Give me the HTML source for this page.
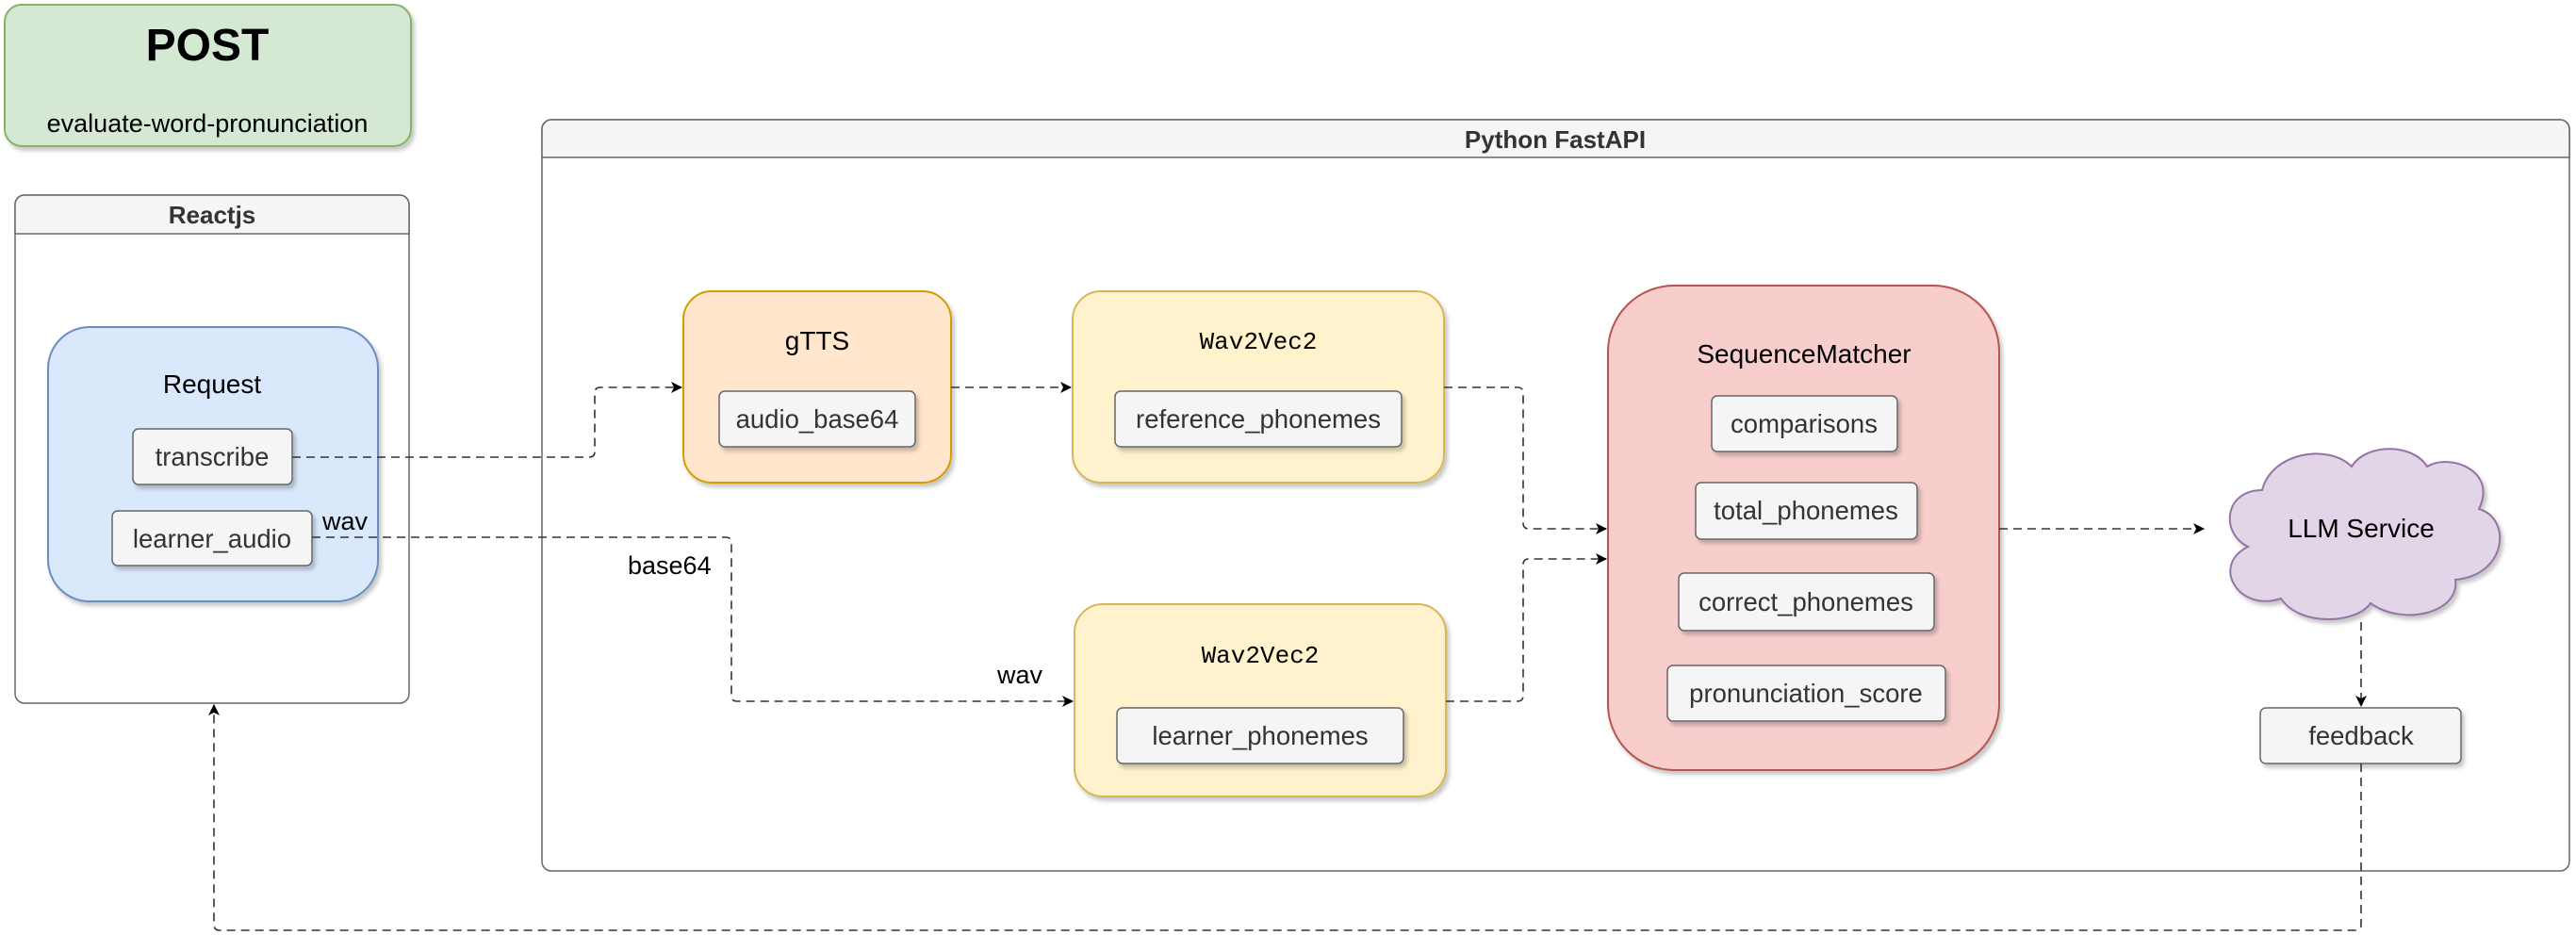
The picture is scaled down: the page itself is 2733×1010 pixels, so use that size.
<!DOCTYPE html>
<html><head><meta charset="utf-8"><style>html,body{margin:0;padding:0;background:#fff}svg{display:block}</style></head>
<body>
<svg width="2733" height="1010" viewBox="0 0 2733 1010" xmlns="http://www.w3.org/2000/svg" font-family="'Liberation Sans', sans-serif">
<defs>
<filter id="sh" x="-10%" y="-10%" width="130%" height="130%"><feDropShadow dx="3" dy="4" stdDeviation="2" flood-color="#000" flood-opacity="0.22"/></filter>
<marker id="ar" markerWidth="12" markerHeight="12" refX="11" refY="6" orient="auto" markerUnits="userSpaceOnUse"><path d="M0,0 L12,6 L0,12 L3,6 Z" fill="#000"/></marker>
</defs>
<rect x="5" y="5" width="431" height="150" rx="18" fill="#d5e8d4" stroke="#82b366" stroke-width="2" filter="url(#sh)"/>
<text x="220" y="64" font-size="48" font-weight="bold" text-anchor="middle">POST</text>
<text x="220" y="140" font-size="27" text-anchor="middle">evaluate-word-pronunciation</text>
<rect x="16" y="207" width="418" height="539" rx="10" fill="#fff" stroke="#666" stroke-width="1.5"/>
<path d="M16,248 V217 a10,10 0 0 1 10,-10 H424 a10,10 0 0 1 10,10 V248 Z" fill="#f5f5f5" stroke="#666" stroke-width="1.5"/>
<text x="225" y="237" font-size="26" font-weight="bold" fill="#333" text-anchor="middle">Reactjs</text>
<rect x="575" y="127" width="2151" height="797" rx="10" fill="#fff" stroke="#666" stroke-width="1.5"/>
<path d="M575,167 V137 a10,10 0 0 1 10,-10 H2716 a10,10 0 0 1 10,10 V167 Z" fill="#f5f5f5" stroke="#666" stroke-width="1.5"/>
<text x="1650" y="157" font-size="26" font-weight="bold" fill="#333" text-anchor="middle">Python FastAPI</text>
<rect x="51" y="347" width="350" height="291" rx="44" fill="#dae8fc" stroke="#6c8ebf" stroke-width="2" filter="url(#sh)"/>
<text x="225" y="417" font-size="28" text-anchor="middle">Request</text>
<g font-size="27.5" fill="#333" text-anchor="middle">
<rect x="141" y="455" width="169" height="59" rx="6" fill="#f5f5f5" stroke="#666" stroke-width="1.5" filter="url(#sh)"/>
<text x="225" y="494">transcribe</text>
<rect x="119" y="542" width="212" height="58" rx="6" fill="#f5f5f5" stroke="#666" stroke-width="1.5" filter="url(#sh)"/>
<text x="225" y="581">learner_audio</text>
</g>
<rect x="725" y="309" width="284" height="203" rx="30" fill="#ffe6cc" stroke="#d79b00" stroke-width="2" filter="url(#sh)"/>
<text x="867" y="371" font-size="28" text-anchor="middle">gTTS</text>
<rect x="763" y="415" width="208" height="59" rx="6" fill="#f5f5f5" stroke="#666" stroke-width="1.5" filter="url(#sh)"/>
<text x="867" y="454" font-size="27.5" fill="#333" text-anchor="middle">audio_base64</text>
<rect x="1138" y="309" width="394" height="203" rx="30" fill="#fff2cc" stroke="#d6b656" stroke-width="2" filter="url(#sh)"/>
<text x="1335" y="370" font-size="26" font-family="'Liberation Mono', monospace" text-anchor="middle">Wav2Vec2</text>
<rect x="1183" y="415" width="304" height="59" rx="6" fill="#f5f5f5" stroke="#666" stroke-width="1.5" filter="url(#sh)"/>
<text x="1335" y="454" font-size="27.5" fill="#333" text-anchor="middle">reference_phonemes</text>
<rect x="1140" y="641" width="394" height="204" rx="30" fill="#fff2cc" stroke="#d6b656" stroke-width="2" filter="url(#sh)"/>
<text x="1337" y="703" font-size="26" font-family="'Liberation Mono', monospace" text-anchor="middle">Wav2Vec2</text>
<rect x="1185" y="751" width="304" height="59" rx="6" fill="#f5f5f5" stroke="#666" stroke-width="1.5" filter="url(#sh)"/>
<text x="1337" y="790" font-size="27.5" fill="#333" text-anchor="middle">learner_phonemes</text>
<rect x="1706" y="303" width="415" height="514" rx="70" fill="#f8cecc" stroke="#b85450" stroke-width="2" filter="url(#sh)"/>
<text x="1914" y="385" font-size="28" text-anchor="middle">SequenceMatcher</text>
<g font-size="27.5" fill="#333" text-anchor="middle">
<rect x="1816" y="420" width="197" height="59" rx="6" fill="#f5f5f5" stroke="#666" stroke-width="1.5" filter="url(#sh)"/>
<text x="1914" y="459">comparisons</text>
<rect x="1799" y="512" width="235" height="60" rx="6" fill="#f5f5f5" stroke="#666" stroke-width="1.5" filter="url(#sh)"/>
<text x="1916" y="551">total_phonemes</text>
<rect x="1781" y="608" width="271" height="61" rx="6" fill="#f5f5f5" stroke="#666" stroke-width="1.5" filter="url(#sh)"/>
<text x="1916" y="648">correct_phonemes</text>
<rect x="1769" y="706" width="295" height="59" rx="6" fill="#f5f5f5" stroke="#666" stroke-width="1.5" filter="url(#sh)"/>
<text x="1916" y="745">pronunciation_score</text>
</g>
<path d="M2400,520 C2360,520 2355,565 2385,580 C2345,600 2375,650 2420,635 C2440,665 2500,662 2515,640 C2550,665 2610,650 2605,615 C2660,610 2665,550 2630,540 C2650,500 2600,480 2575,495 C2560,470 2510,470 2495,495 C2470,470 2410,480 2400,520 Z" fill="#e1d5e7" stroke="#9673a6" stroke-width="2" filter="url(#sh)"/>
<text x="2505" y="570" font-size="28" text-anchor="middle">LLM Service</text>
<rect x="2398" y="751" width="213" height="59" rx="6" fill="#f5f5f5" stroke="#666" stroke-width="1.5" filter="url(#sh)"/>
<text x="2505" y="790" font-size="27.5" fill="#333" text-anchor="middle">feedback</text>
<g fill="none" stroke="#333" stroke-width="1.6" stroke-dasharray="9,6">
<path d="M310,485 H625 Q631,485 631,479 V417 Q631,411 637,411 H723" marker-end="url(#ar)"/>
<path d="M1009,411 H1136" marker-end="url(#ar)"/>
<path d="M331,570 H770 Q776,570 776,576 V738 Q776,744 782,744 H1138" marker-end="url(#ar)"/>
<path d="M1532,411 H1610 Q1616,411 1616,417 V555 Q1616,561 1622,561 H1704" marker-end="url(#ar)"/>
<path d="M1534,744 H1610 Q1616,744 1616,738 V599 Q1616,593 1622,593 H1704" marker-end="url(#ar)"/>
<path d="M2121,561 H2338" marker-end="url(#ar)"/>
<path d="M2505,660 V749" marker-end="url(#ar)"/>
<path d="M2505,810 V981 Q2505,987 2499,987 H233 Q227,987 227,981 V748" marker-end="url(#ar)"/>
</g>
<g font-size="27" fill="#000">
<text x="342" y="562">wav</text>
<text x="666" y="609">base64</text>
<text x="1058" y="725">wav</text>
</g>
</svg>
</body></html>
